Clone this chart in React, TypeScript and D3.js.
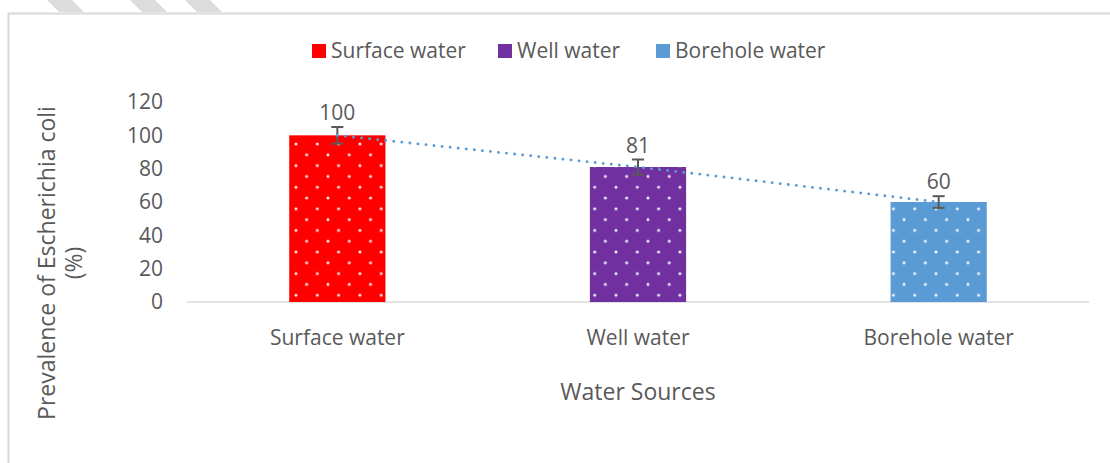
import React, { useEffect, useRef } from "react";
import * as d3 from "d3";

const categories = ["Surface water", "Well water", "Borehole water"];
const prevalence = [100, 81, 60];
const errors = [5, 4.5, 3.5];
const barColors = ["#FF0000", "#7030A0", "#5B9BD5"];
const yTicks = [0, 20, 40, 60, 80, 100, 120];

const W = 1110;
const H = 463;
const FONT = "'Open Sans', 'Noto Sans', sans-serif";
const TEXT = "#595959";

const App = () => {
    const ref = useRef<SVGSVGElement>(null);

    useEffect(() => {
        const svg = d3.select(ref.current);
        svg.selectAll("*").remove();

        // dotted fill patterns
        const defs = svg.append("defs");
        barColors.forEach((c, i) => {
            const p = defs
                .append("pattern")
                .attr("id", `dots${i}`)
                .attr("patternUnits", "userSpaceOnUse")
                .attr("width", 21.3)
                .attr("height", 21.6)
                .attr("x", 296 + i * 0.5)
                .attr("y", 144);
            p.append("rect").attr("width", 21.3).attr("height", 21.6).attr("fill", c);
            [[0, 0], [10.65, 10.8], [21.3, 0], [0, 21.6], [21.3, 21.6]].forEach(([cx, cy]) =>
                p.append("circle").attr("cx", cx).attr("cy", cy).attr("r", 1.5).attr("fill", "#fff").attr("opacity", 0.9)
            );
        });

        // watermark stripes at top
        [47, 130, 185].forEach((a) =>
            svg.append("polygon")
                .attr("points", `${a},0 ${a + 25},0 ${a + 37},12 ${a + 12},12`)
                .attr("fill", "#DCDCDC")
        );

        // chart frame
        svg.append("path")
            .attr("d", `M${W},13.5 H8.5 V${H}`)
            .attr("fill", "none")
            .attr("stroke", "#D9D9D9")
            .attr("stroke-width", 2);

        const x = d3.scaleBand().domain(categories).range([187, 1089]).paddingInner(0.68).paddingOuter(0.34);
        const y = d3.scaleLinear().domain([0, 120]).range([302, 102]);

        // y ticks
        const ya = svg.append("g")
            .attr("transform", `translate(163,0)`)
            .call(d3.axisLeft(y).tickValues(yTicks).tickSize(0).tickPadding(0));
        ya.select(".domain").remove();
        ya.selectAll("text")
            .attr("font-family", FONT)
            .attr("font-size", 21)
            .attr("fill", TEXT);

        // x axis
        const xa = svg.append("g")
            .attr("transform", `translate(0,302)`)
            .call(d3.axisBottom(x).tickSize(0).tickPadding(28));
        xa.select(".domain").attr("stroke", "#D9D9D9").attr("stroke-width", 1.5).attr("d", "M187,0H1089");
        xa.selectAll("text")
            .attr("font-family", FONT)
            .attr("font-size", 21)
            .attr("fill", TEXT);

        // bars
        svg.append("g")
            .selectAll("rect")
            .data(prevalence)
            .join("rect")
            .attr("x", (_, i) => x(categories[i])!)
            .attr("width", x.bandwidth())
            .attr("y", (d) => y(d))
            .attr("height", (d) => y(0) - y(d))
            .attr("fill", (_, i) => `url(#dots${i})`);

        // error bars
        const eg = svg.append("g").attr("stroke", "#595959").attr("stroke-width", 2);
        prevalence.forEach((v, i) => {
            const cx = x(categories[i])! + x.bandwidth() / 2;
            eg.append("line").attr("x1", cx).attr("x2", cx).attr("y1", y(v + errors[i])).attr("y2", y(v - errors[i]));
            [v + errors[i], v - errors[i]].forEach((e) =>
                eg.append("line").attr("x1", cx - 6).attr("x2", cx + 6).attr("y1", y(e)).attr("y2", y(e))
            );
        });

        // dotted trend line
        const ln = d3.line<number>()
            .x((_, i) => x(categories[i])! + x.bandwidth() / 2)
            .y((d) => y(d));
        svg.append("path")
            .datum(prevalence)
            .attr("d", ln)
            .attr("fill", "none")
            .attr("stroke", "#5B9BD5")
            .attr("stroke-width", 2.8)
            .attr("stroke-linecap", "round")
            .attr("stroke-dasharray", "0.1 8");

        // value labels
        svg.append("g")
            .selectAll("text")
            .data(prevalence)
            .join("text")
            .attr("x", (_, i) => x(categories[i])! + x.bandwidth() / 2)
            .attr("y", (d, i) => y(d + errors[i]) - 7)
            .attr("text-anchor", "middle")
            .attr("font-family", FONT)
            .attr("font-size", 21)
            .attr("fill", TEXT)
            .text((d) => d);

        // legend
        const lgX = [312, 498, 656];
        const lg = svg.append("g");
        categories.forEach((c, i) => {
            lg.append("rect")
                .attr("x", lgX[i])
                .attr("y", 44)
                .attr("width", 14)
                .attr("height", 14)
                .attr("fill", barColors[i]);
            lg.append("text")
                .attr("x", lgX[i] + 19)
                .attr("y", 58)
                .attr("font-family", FONT)
                .attr("font-size", 21)
                .attr("fill", TEXT)
                .text(c);
        });

        // axis titles
        svg.append("text")
            .attr("x", 638)
            .attr("y", 400)
            .attr("text-anchor", "middle")
            .attr("font-family", FONT)
            .attr("font-size", 23)
            .attr("fill", TEXT)
            .text("Water Sources");

        const yt = svg.append("text")
            .attr("transform", "translate(55,263) rotate(-90)")
            .attr("text-anchor", "middle")
            .attr("font-family", FONT)
            .attr("font-size", 23)
            .attr("fill", TEXT);
        yt.append("tspan").attr("x", 0).attr("y", 0).text("Prevalence of Escherichia coli");
        yt.append("tspan").attr("x", 0).attr("y", 27).text("(%)");
    }, []);

    return (
        <svg
            ref={ref}
            width={W}
            height={H}
            style={{ position: "absolute", left: 0, top: 0, background: "#fff" }}
        />
    );
};

export default App;
